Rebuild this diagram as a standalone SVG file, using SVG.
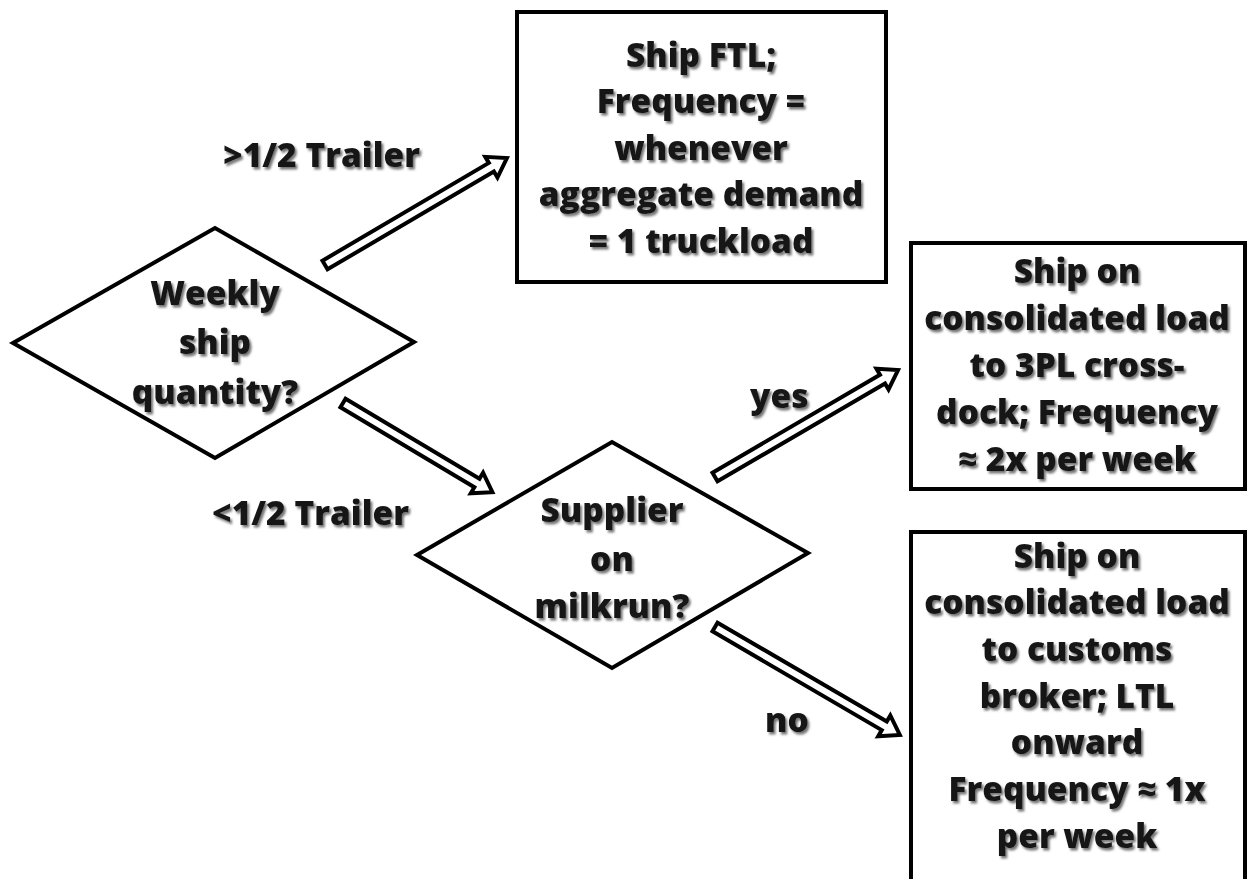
<svg xmlns="http://www.w3.org/2000/svg" width="1248" height="879" viewBox="0 0 1248 879">
<style>
.shape{fill:#fff;stroke:#000;stroke-width:4;stroke-linejoin:miter}
.arrow{fill:#fff;stroke:#000;stroke-width:4;stroke-linejoin:miter}
text{font-family:"Open Sans","Liberation Sans",sans-serif;font-weight:800;font-size:33.5px;fill:#141414;text-anchor:middle;filter:url(#sh)}
.lbl{text-anchor:start}
</style>
<defs>
<filter id="sh" x="-10%" y="-30%" width="120%" height="160%">
<feDropShadow dx="2" dy="2.5" stdDeviation="1.3" flood-color="#666" flood-opacity="0.9"/>
</filter>
</defs>
<rect width="1248" height="879" fill="#fff"/>
<g id="connectors">
<g transform="translate(325,265) rotate(-30.45)"><polygon class="arrow" points="0,-5 193,-5 193,-12 211,0 193,12 193,5 0,5"/></g>
<g transform="translate(343,403) rotate(30.85)"><polygon class="arrow" points="0,-5 156,-5 156,-12 174,0 156,12 156,5 0,5"/></g>
<g transform="translate(715,477) rotate(-30.3)"><polygon class="arrow" points="0,-5 194,-5 194,-12 212,0 194,12 194,5 0,5"/></g>
<g transform="translate(715,627) rotate(30.27)"><polygon class="arrow" points="0,-5 196,-5 196,-12 214,0 196,12 196,5 0,5"/></g>
<text class="lbl" x="223" y="167">&gt;1/2 Trailer</text>
<text class="lbl" x="212" y="525">&lt;1/2 Trailer</text>
<text class="lbl" x="750" y="408">yes</text>
<text class="lbl" x="765" y="732">no</text>
</g>
<g id="d1">
<polygon class="shape" points="13,343 215,228 414,342 215,458"/>
<text x="215" y="305">Weekly</text>
<text x="215" y="354">ship</text>
<text x="215" y="404">quantity?</text>
</g>
<g id="d2">
<polygon class="shape" points="417,555 612,442 808,553 612,668"/>
<text x="612" y="522">Supplier</text>
<text x="612" y="571">on</text>
<text x="612" y="618">milkrun?</text>
</g>
<g id="b1">
<rect class="shape" x="517" y="12" width="369" height="270"/>
<text x="701" y="67">Ship FTL;</text>
<text x="701" y="113">Frequency =</text>
<text x="701" y="160">whenever</text>
<text x="701" y="206">aggregate demand</text>
<text x="701" y="253">= 1 truckload</text>
</g>
<g id="b2">
<rect class="shape" x="911" y="243" width="334" height="246"/>
<text x="1077" y="283">Ship on</text>
<text x="1077" y="330">consolidated load</text>
<text x="1077" y="377">to 3PL cross-</text>
<text x="1077" y="424">dock; Frequency</text>
<text x="1077" y="471">≈ 2x per week</text>
</g>
<g id="b3">
<rect class="shape" x="911" y="532" width="334" height="360"/>
<text x="1077" y="568">Ship on</text>
<text x="1077" y="614">consolidated load</text>
<text x="1077" y="661">to customs</text>
<text x="1077" y="708">broker; LTL</text>
<text x="1077" y="754">onward</text>
<text x="1077" y="801">Frequency ≈ 1x</text>
<text x="1077" y="848">per week</text>
</g>
</svg>
